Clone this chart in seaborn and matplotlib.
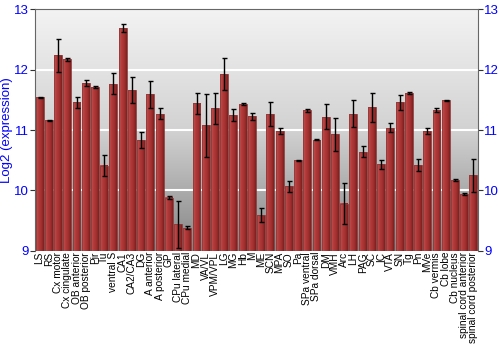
import numpy as np
import pandas as pd
import matplotlib
matplotlib.use("Agg")
import matplotlib.pyplot as plt
import seaborn as sns
from matplotlib.colors import LinearSegmentedColormap

regions = ["LS", "RS", "Cx motor", "Cx cingulate", "OB anterior", "OB posterior", "Pir", "Tu",
           "ventral S", "CA1", "CA2/CA3", "DG", "A anterior", "A posterior", "GP", "CPu lateral",
           "CPu medial", "MD", "VA/VL", "VPM/VPL", "LG", "MG", "Hb", "M", "ME", "SCN", "MPA", "SO",
           "Pa", "SPa ventral", "SPa dorsal", "DM", "VMH", "Arc", "LH", "PAG", "SC", "IC", "VTA",
           "SN", "Tg", "Pn", "MVe", "Cb vermis", "Cb lobe", "Cb nucleus", "spinal cord anterior",
           "spinal cord posterior"]
expression = [11.54, 11.16, 12.24, 12.17, 11.46, 11.78, 11.71, 10.41,
              11.77, 12.69, 11.66, 10.83, 11.59, 11.27, 9.88, 9.44,
              9.38, 11.44, 11.08, 11.36, 11.93, 11.25, 11.43, 11.23, 9.59, 11.27, 10.98, 10.07,
              10.50, 11.33, 10.84, 11.22, 10.93, 9.78, 11.27, 10.64, 11.38, 10.43, 11.04,
              11.46, 11.61, 10.42, 10.98, 11.33, 11.49, 10.17, 9.94,
              10.25]
error = [0.01, 0.01, 0.27, 0.02, 0.09, 0.045, 0.02, 0.18,
         0.17, 0.07, 0.22, 0.13, 0.22, 0.09, 0.02, 0.39,
         0.02, 0.18, 0.52, 0.26, 0.27, 0.10, 0.02, 0.06, 0.12, 0.20, 0.05, 0.09,
         0.01, 0.025, 0.01, 0.21, 0.27, 0.34, 0.22, 0.09, 0.24, 0.07, 0.07,
         0.12, 0.02, 0.10, 0.05, 0.035, 0.015, 0.015, 0.015,
         0.27]
y_ticks = [9, 10, 11, 12, 13]

df = pd.DataFrame({"region": regions, "expr": expression, "err": error})

plt.rcParams["font.family"] = ["Liberation Sans", "DejaVu Sans"]

fig = plt.figure(figsize=(5, 3.5), dpi=100)
ax = fig.add_axes([0.07, 0.284, 0.886, 0.689])

# gradient background
grad = np.linspace(0, 1, 256).reshape(-1, 1)
bg_cmap = LinearSegmentedColormap.from_list("bg", ["#f3f3f3", "#d2d2d2", "#858585"])
ax.imshow(grad, extent=[0, 1, 0, 1], transform=ax.transAxes, aspect="auto",
          cmap=bg_cmap, zorder=0)

sns.barplot(data=df, x="region", y="expr", color="#a83434", saturation=1,
            width=0.86, edgecolor="#8a3a3a", linewidth=0.6, ax=ax, zorder=2)

ymin, ymax = 9, 13
# horizontal shading inside each bar (visible part only)
bar_cmap = LinearSegmentedColormap.from_list("bar", ["#c65353", "#b23b3b", "#a33030", "#7e2020"])
hgrad = np.linspace(0, 1, 64).reshape(1, -1)
for p in list(ax.patches):
    x0 = p.get_x()
    w, h = p.get_width(), p.get_height()
    top = p.get_y() + h
    ax.imshow(hgrad, extent=[x0, x0 + w, ymin, top], aspect="auto",
              cmap=bar_cmap, zorder=2.1)
    p.set_facecolor("none")
    p.set_zorder(2.2)

ax.errorbar(np.arange(len(regions)), expression, yerr=error, fmt="none",
            ecolor="black", elinewidth=1, capsize=1.8, capthick=1, zorder=3)

for v in [10, 11, 12]:
    ax.axhline(v, color="white", lw=1.5, zorder=1)

ax.set_ylim(ymin, ymax)
ax.set_xlim(-0.5, len(regions) - 0.5)
ax.set_yticks(y_ticks)
ax.tick_params(axis="y", colors="#333333", labelcolor="blue", labelsize=9.5,
               length=3.5, right=True, labelright=True, pad=1)
ax.tick_params(axis="x", length=0, labelsize=7.3, pad=1)
plt.setp(ax.get_xticklabels(), rotation=90)
ax.set_xlabel("")
ax.set_ylabel("Log2 (expression)", color="blue", fontsize=9.5)
ax.yaxis.set_label_coords(-0.05, 0.5)
for s in ["top", "left", "right"]:
    ax.spines[s].set_color("#666666")
ax.spines["bottom"].set_visible(False)
ax.grid(False)

fig.savefig("out.png", dpi=100)
